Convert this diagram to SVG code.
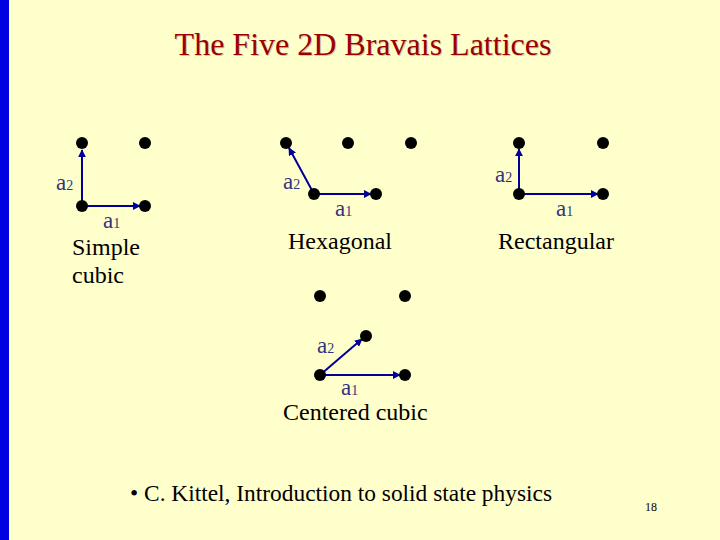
<svg xmlns="http://www.w3.org/2000/svg" width="720" height="540" viewBox="0 0 720 540">
<defs>
<marker id="ah" viewBox="0 0 10 10" refX="9" refY="5" markerWidth="4" markerHeight="4" orient="auto" markerUnits="strokeWidth">
<path d="M0,0 L10,5 L0,10 z" fill="#000099"/>
</marker>
<style>
.dot{fill:#000}
.vec{stroke:#000099;stroke-width:2;fill:none;marker-end:url(#ah)}
.lbl{font-size:23px;fill:#333380}
.sub{font-size:14px}
.cap{font-size:24px;fill:#000}
.title{font-size:32px;fill:#990000;text-anchor:middle}
</style>
</defs>
<rect width="720" height="540" fill="#FFFFCC"/>
<rect x="0" y="0" width="9" height="540" fill="#0000E0"/>
<g font-family="'Liberation Serif', 'Times New Roman', serif">
<text class="title" x="364" y="56" style="fill:#d8c8a8">The Five 2D Bravais Lattices</text>
<text class="title" x="363" y="55">The Five 2D Bravais Lattices</text>

<g id="connectors">
<line class="vec" x1="82" y1="206" x2="82" y2="150"/>
<line class="vec" x1="82" y1="206" x2="140" y2="206"/>
<line class="vec" x1="314" y1="194" x2="289" y2="148"/>
<line class="vec" x1="314" y1="194" x2="371" y2="194"/>
<line class="vec" x1="519" y1="194" x2="519" y2="149"/>
<line class="vec" x1="519" y1="194" x2="598" y2="194"/>
<line class="vec" x1="320" y1="375" x2="362" y2="339"/>
<line class="vec" x1="320" y1="375" x2="400" y2="375"/>
</g>

<g id="simple">
<circle class="dot" cx="82" cy="143" r="6"/>
<circle class="dot" cx="145" cy="143" r="6"/>
<circle class="dot" cx="82" cy="206" r="6"/>
<circle class="dot" cx="145" cy="206" r="6"/>
<text class="lbl" x="56" y="190">a<tspan class="sub">2</tspan></text>
<text class="lbl" x="103" y="228">a<tspan class="sub">1</tspan></text>
<text class="cap" x="72" y="255">Simple</text>
<text class="cap" x="72" y="283">cubic</text>
</g>

<g id="hexagonal">
<circle class="dot" cx="286" cy="143" r="6"/>
<circle class="dot" cx="348" cy="143" r="6"/>
<circle class="dot" cx="411" cy="143" r="6"/>
<circle class="dot" cx="314" cy="194" r="6"/>
<circle class="dot" cx="376" cy="194" r="6"/>
<text class="lbl" x="283" y="189">a<tspan class="sub">2</tspan></text>
<text class="lbl" x="335" y="216">a<tspan class="sub">1</tspan></text>
<text class="cap" x="288" y="249">Hexagonal</text>
</g>

<g id="rectangular">
<circle class="dot" cx="519" cy="143" r="6"/>
<circle class="dot" cx="603" cy="143" r="6"/>
<circle class="dot" cx="519" cy="194" r="6"/>
<circle class="dot" cx="603" cy="194" r="6"/>
<text class="lbl" x="495" y="182">a<tspan class="sub">2</tspan></text>
<text class="lbl" x="556" y="216">a<tspan class="sub">1</tspan></text>
<text class="cap" x="498" y="249">Rectangular</text>
</g>

<g id="centered">
<circle class="dot" cx="320" cy="296" r="6"/>
<circle class="dot" cx="405" cy="296" r="6"/>
<circle class="dot" cx="366" cy="336" r="6"/>
<circle class="dot" cx="320" cy="375" r="6"/>
<circle class="dot" cx="405" cy="375" r="6"/>
<text class="lbl" x="317" y="353">a<tspan class="sub">2</tspan></text>
<text class="lbl" x="341" y="395">a<tspan class="sub">1</tspan></text>
<text class="cap" x="283" y="420">Centered cubic</text>
</g>

<text class="cap" x="130" y="501" style="font-size:23.4px">• C. Kittel, Introduction to solid state physics</text>
<text x="645" y="511" font-size="12" fill="#000">18</text>
</g>
</svg>
